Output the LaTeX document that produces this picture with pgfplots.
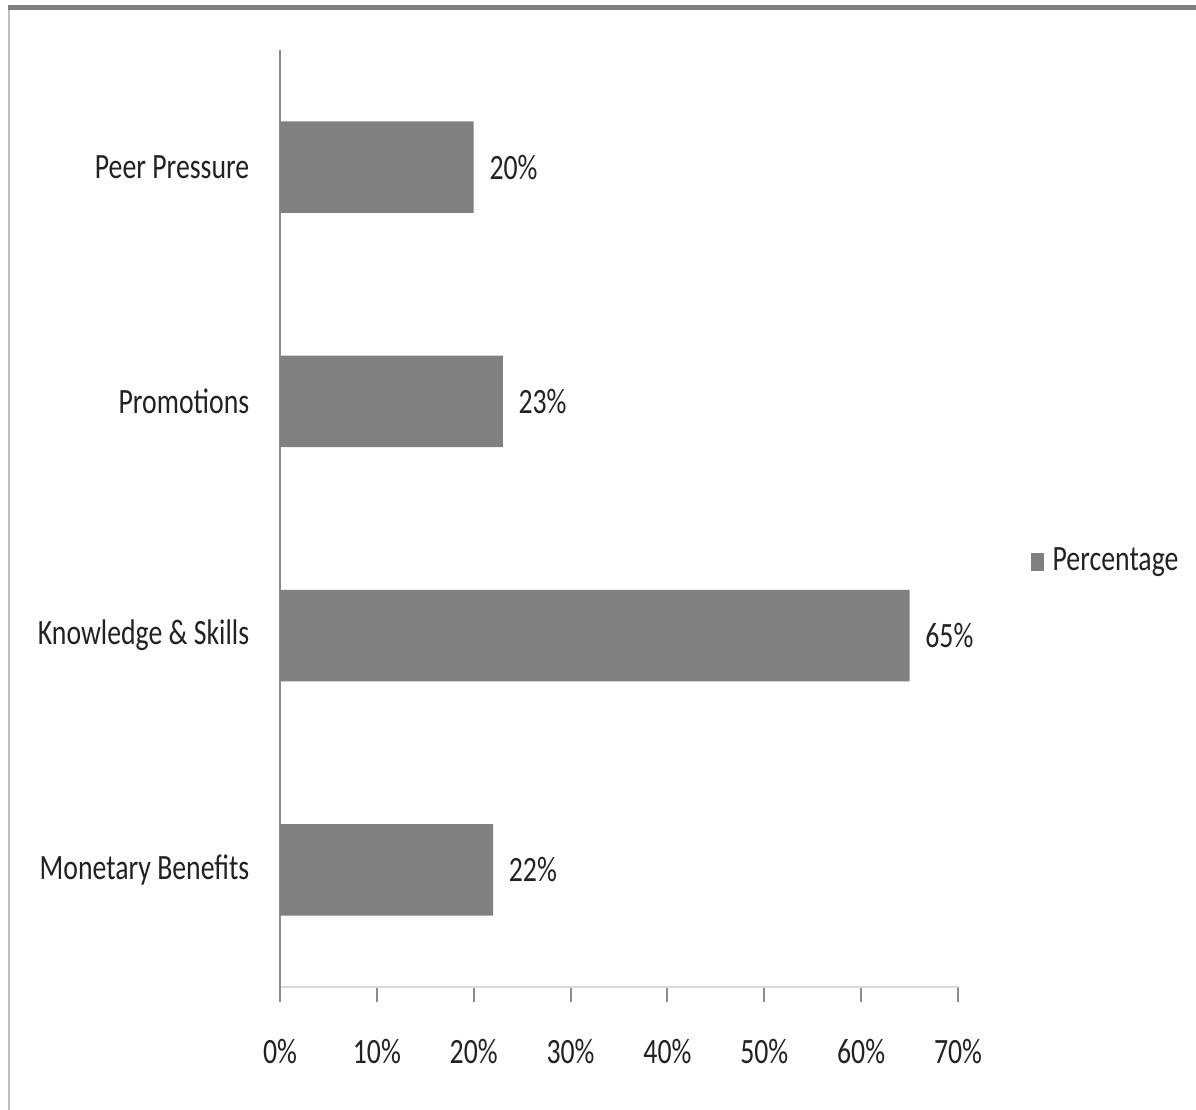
\documentclass[border=0pt]{standalone}
\usepackage{fontspec}
\setmainfont{Carlito}[FakeStretch=0.78]
\usepackage{pgfplots}
\pgfplotsset{compat=1.18}
\definecolor{barc}{HTML}{808080}
\definecolor{axdark}{HTML}{8C8C8C}
\definecolor{axlight}{HTML}{D9D9D9}
\definecolor{txt}{HTML}{222222}
\newcommand{\chartfont}{\fontsize{8.9pt}{10pt}\selectfont}
\begin{document}
\chartfont
\begin{tikzpicture}
\path[use as bounding box] (0,0) rectangle (299pt,277.5pt);
\draw[line width=1.25pt, color=barc] (2pt,275.6pt) -- (299pt,275.6pt);
\draw[line width=0.5pt, color=axlight!70!gray] (2.25pt,0) -- (2.25pt,275pt);
\begin{axis}[
  at={(70pt,30.75pt)}, anchor=south west,
  scale only axis, width=169.5pt, height=234.25pt,
  xbar, bar width=0.39,
  xmin=0, xmax=70, ymin=-0.5, ymax=3.5,
  axis lines=left,
  x axis line style={-, draw=axlight, line width=0.6pt},
  y axis line style={-, draw=axdark, line width=0.6pt, shorten <=-3.75pt},
  tick align=outside, major tick length=3.75pt,
  x tick style={draw=axdark, line width=0.5pt},
  y tick style={draw=none},
  xtick={0,10,20,30,40,50,60,70},
  xticklabels={0\%,10\%,20\%,30\%,40\%,50\%,60\%,70\%},
  ytick={0,1,2,3},
  yticklabels={Monetary Benefits,Knowledge \& Skills,Promotions,Peer Pressure},
  tick label style={font=\chartfont, text=txt},
  xticklabel style={inner sep=0pt, anchor=north, yshift=-9pt},
  yticklabel style={inner sep=0pt, anchor=east, xshift=-3.75pt},
  point meta=x,
  nodes near coords={\pgfmathprintnumber[assume math mode=true]{\pgfplotspointmeta}\%},
  nodes near coords style={anchor=west, inner sep=0pt, xshift=3.75pt, text=txt, font=\chartfont},
  legend style={at={(1.106,0.4536)}, anchor=west, draw=none, fill=none, inner sep=0pt,
    font=\chartfont, text=txt, nodes={inner sep=0pt}, column sep=0pt},
  legend cell align=left,
  legend image code/.code={\fill[barc] (0pt,-2.25pt) rectangle (3.3pt,2.25pt); \path (5.5pt,0pt);},
]
\addplot[fill=barc, draw=none] coordinates {(22,0) (65,1) (23,2) (20,3)};
\legend{Percentage}
\end{axis}
\end{tikzpicture}
\end{document}
